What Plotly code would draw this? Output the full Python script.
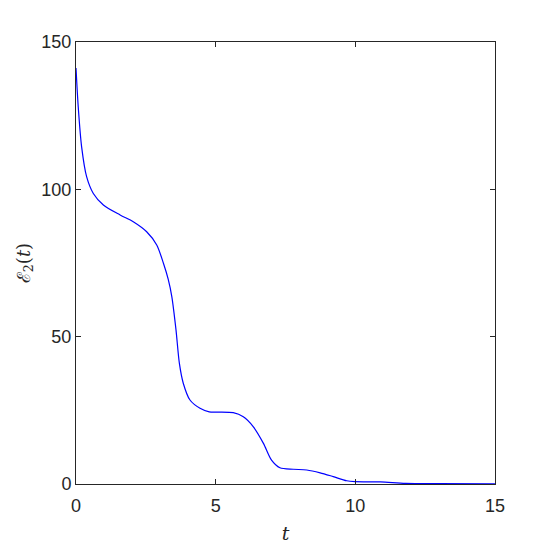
import plotly.graph_objects as go

# values
t_vals = [0.0, 0.08, 0.2, 0.38, 0.62, 0.98, 1.58, 2.05, 2.53, 2.89, 3.13, 3.3, 3.43,
          3.58, 3.70, 3.84, 4.08, 4.44, 4.77, 5.04, 5.63, 5.99, 6.35, 6.71, 7.0,
          7.3, 7.78, 8.26, 8.74, 9.21, 9.69, 9.99, 10.9, 11.8, 13.0, 15.0]
e2_vals = [141.2, 128.0, 114.5, 104.3, 98.6, 94.7, 91.3, 89.0, 85.6, 81.1, 74.9, 69.5, 63.6,
           52.3, 41.0, 34.2, 28.5, 25.7, 24.5, 24.4, 24.2, 22.8, 19.4, 13.8, 8.1,
           5.5, 5.0, 4.75, 3.8, 2.5, 1.1, 0.8, 0.7, 0.2, 0.1, 0.05]

x_ticks = [0, 5, 10, 15]
y_ticks = [0, 50, 100, 150]

fig = go.Figure()
fig.add_trace(go.Scatter(x=t_vals, y=e2_vals, mode='lines',
                         line=dict(color='#0000ff', width=1.2, shape='spline', smoothing=0.8)))

axis_style = dict(
    showgrid=False, zeroline=False,
    showline=True, linecolor='#262626', linewidth=1, mirror='ticks',
    ticks='inside', ticklen=5, tickcolor='#262626', tickwidth=1,
    tickfont=dict(family='Liberation Sans, Arial', size=18, color='#262626'),
)

# page body adds ~8px offset, margins compensate for it
fig.update_layout(
    width=547, height=547,
    margin=dict(l=68, r=60, t=34, b=71),
    plot_bgcolor='white', paper_bgcolor='white',
    showlegend=False,
    xaxis=dict(range=[0, 15], tickvals=x_ticks, ticklabelstandoff=5, **axis_style,
               title=dict(text='<i>t</i>', font=dict(family='DejaVu Serif', size=19, color='#262626'),
                          standoff=12)),
    yaxis=dict(range=[0, 150], tickvals=y_ticks, **axis_style,
               title=dict(text='ℰ<sub>2</sub>(<i>t</i>)',
                          font=dict(family='DejaVu Serif', size=18, color='#262626'),
                          standoff=6)),
)

fig.write_html("out.html")
